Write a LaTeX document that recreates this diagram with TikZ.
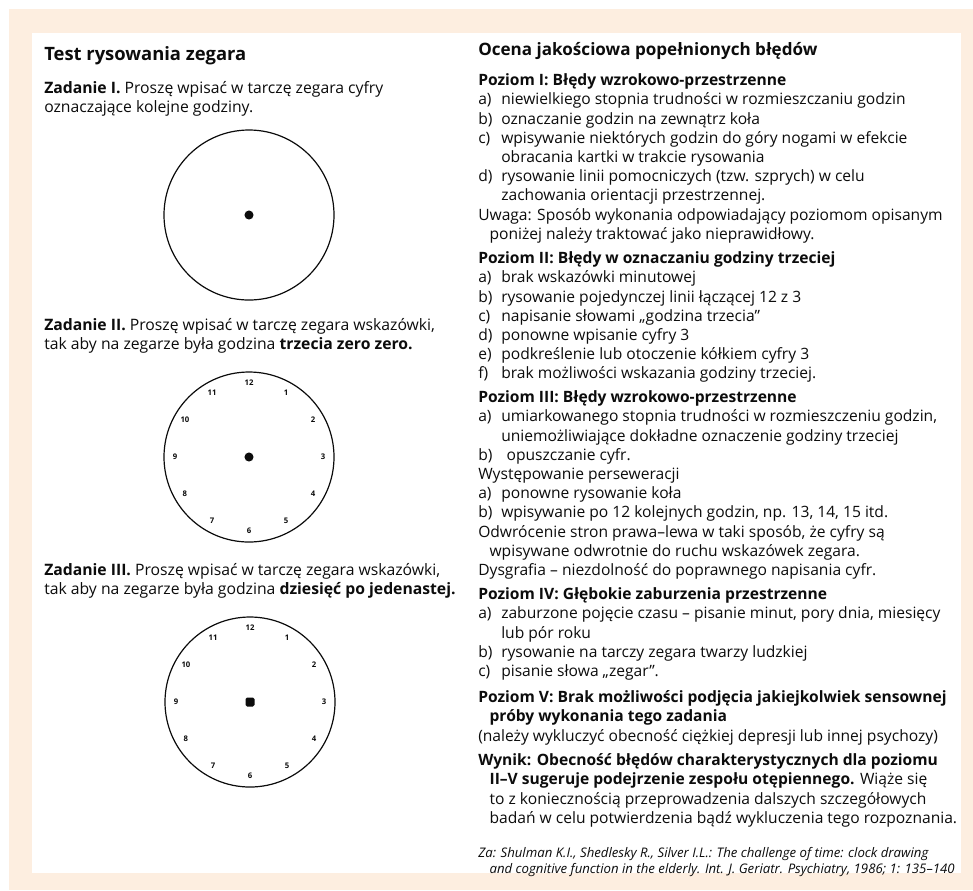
\documentclass[tikz,border=0pt]{standalone}
\usepackage{fontspec}
\usetikzlibrary{calc}
\setmainfont{Open Sans}
\definecolor{peach}{RGB}{253,238,224}
\definecolor{inkgray}{RGB}{12,12,12}
\newcommand\lbl[1]{\makebox[17.25pt][l]{#1}}
\newcommand\ind{\hspace*{17.25pt}}
\newcommand\hang{\hspace*{8.5pt}}
\tikzset{
  txtR/.style={anchor=north west, inner sep=0pt, align=left, text=inkgray,
    font=\fontsize{11.7}{14.4}\selectfont},
  txtL/.style={anchor=north west, inner sep=0pt, align=left, text=inkgray,
    font=\fontsize{11.8}{14.6}\selectfont},
  dial/.style={line width=0.9pt, draw=inkgray},
  hour/.style={inner sep=0pt, text=inkgray, font=\fontsize{5.8}{6}\selectfont\bfseries}
}
\begin{document}
\begin{tikzpicture}[x=0.75pt, y=-0.75pt]
  \useasboundingbox (0,0) rectangle (973,890);
  % frame
  \fill[peach] (9,9) rectangle (973,890);
  \fill[white] (32,33) rectangle (961,873);

  % left column
  \node[txtL, font=\fontsize{13.8}{15.4}\selectfont\bfseries] (title) at (44,46) {\strut Test rysowania zegara};
  \node[txtL] (zad1) at (44,79.4) {\strut\textbf{Zadanie I.} Proszę wpisać w tarczę zegara cyfry\\
    oznaczające kolejne godziny.};
  \node[txtL] (zad2) at (44,316.4) {\strut\textbf{Zadanie II.} Proszę wpisać w tarczę zegara wskazówki,\\
    tak aby na zegarze była godzina \textbf{trzecia zero zero.}};
  \node[txtL] (zad3) at (44,561.4) {\strut\textbf{Zadanie III.} Proszę wpisać w tarczę zegara wskazówki,\\
    tak aby na zegarze była godzina \textbf{dziesięć po jedenastej.}};

  % clocks
  \coordinate (clockA) at (249,215);
  \coordinate (clockB) at (249,457);
  \coordinate (clockC) at (250,702);
  \draw[dial] (clockA) circle[radius=63.75pt];
  \fill[inkgray] (clockA) circle[radius=3.4pt];
  \draw[dial] (clockB) circle[radius=63.75pt];
  \fill[inkgray] (clockB) circle[radius=3.4pt];
  \draw[dial] (clockC) circle[radius=63.75pt];
  \fill[inkgray, rounded corners=1.2pt] ($(clockC)+(-4.5,-4.5)$) rectangle ($(clockC)+(4.5,4.5)$);
  \foreach \h in {1,...,12} {
    \node[hour] (hb\h) at ({249+74*sin(30*\h)},{457-74*cos(30*\h)}) {\h};
    \node[hour] (hc\h) at ({250+74*sin(30*\h)},{702-74*cos(30*\h)}) {\h};
  }

  % right column
  \node[txtR, font=\fontsize{12.8}{14.4}\selectfont\bfseries] (head) at (478,42) {\strut Ocena jakościowa popełnionych błędów};
  \node[txtR] (lev1) at (478,72) {\strut\textbf{Poziom I: Błędy wzrokowo-przestrzenne}\\
    \lbl{a)}niewielkiego stopnia trudności w rozmieszczaniu godzin\\
    \lbl{b)}oznaczanie godzin na zewnątrz koła\\
    \lbl{c)}wpisywanie niektórych godzin do góry nogami w efekcie\\
    \ind obracania kartki w trakcie rysowania\\
    \lbl{d)}rysowanie linii pomocniczych (tzw. szprych) w celu\\
    \ind zachowania orientacji przestrzennej.\\
    Uwaga: Sposób wykonania odpowiadający poziomom opisanym\\
    \hang poniżej należy traktować jako nieprawidłowy.};
  \node[txtR] (lev2) at (478,250) {\strut\textbf{Poziom II: Błędy w oznaczaniu godziny trzeciej}\\
    \lbl{a)}brak wskazówki minutowej\\
    \lbl{b)}rysowanie pojedynczej linii łączącej 12 z 3\\
    \lbl{c)}napisanie słowami „godzina trzecia”\\
    \lbl{d)}ponowne wpisanie cyfry 3\\
    \lbl{e)}podkreślenie lub otoczenie kółkiem cyfry 3\\
    \lbl{f)}brak możliwości wskazania godziny trzeciej.};
  \node[txtR] (lev3) at (478,389) {\strut\textbf{Poziom III: Błędy wzrokowo-przestrzenne}\\
    \lbl{a)}umiarkowanego stopnia trudności w rozmieszczeniu godzin,\\
    \ind uniemożliwiające dokładne oznaczenie godziny trzeciej\\
    \lbl{b)}\hspace*{4pt}opuszczanie cyfr.\\
    Występowanie perseweracji\\
    \lbl{a)}ponowne rysowanie koła\\
    \lbl{b)}wpisywanie po 12 kolejnych godzin, np. 13, 14, 15 itd.\\
    Odwrócenie stron prawa--lewa w taki sposób, że cyfry są\\
    \hang wpisywane odwrotnie do ruchu wskazówek zegara.\\
    Dysgrafia -- niezdolność do poprawnego napisania cyfr.};
  \node[txtR] (lev4) at (478,586) {\strut\textbf{Poziom IV: Głębokie zaburzenia przestrzenne}\\
    \lbl{a)}zaburzone pojęcie czasu -- pisanie minut, pory dnia, miesięcy\\
    \ind lub pór roku\\
    \lbl{b)}rysowanie na tarczy zegara twarzy ludzkiej\\
    \lbl{c)}pisanie słowa „zegar”.};
  \node[txtR] (lev5) at (478,689) {\strut\textbf{Poziom V: Brak możliwości podjęcia jakiejkolwiek sensownej}\\
    \hang\textbf{próby wykonania tego zadania}\\
    (należy wykluczyć obecność ciężkiej depresji lub innej psychozy)};
  \node[txtR] (result) at (478,752) {\strut\textbf{Wynik: Obecność błędów charakterystycznych dla poziomu}\\
    \hang\textbf{II--V sugeruje podejrzenie zespołu otępiennego.} Wiąże się\\
    \hang to z koniecznością przeprowadzenia dalszych szczegółowych\\
    \hang badań w celu potwierdzenia bądź wykluczenia tego rozpoznania.};
  \node[txtR, font=\fontsize{9.9}{10.8}\selectfont\itshape] (source) at (478,847) {\strut Za: Shulman K.I., Shedlesky R., Silver I.L.: The challenge of time: clock drawing\\
    \hang and cognitive function in the elderly. Int. J. Geriatr. Psychiatry, 1986; 1: 135--140};
\end{tikzpicture}
\end{document}
